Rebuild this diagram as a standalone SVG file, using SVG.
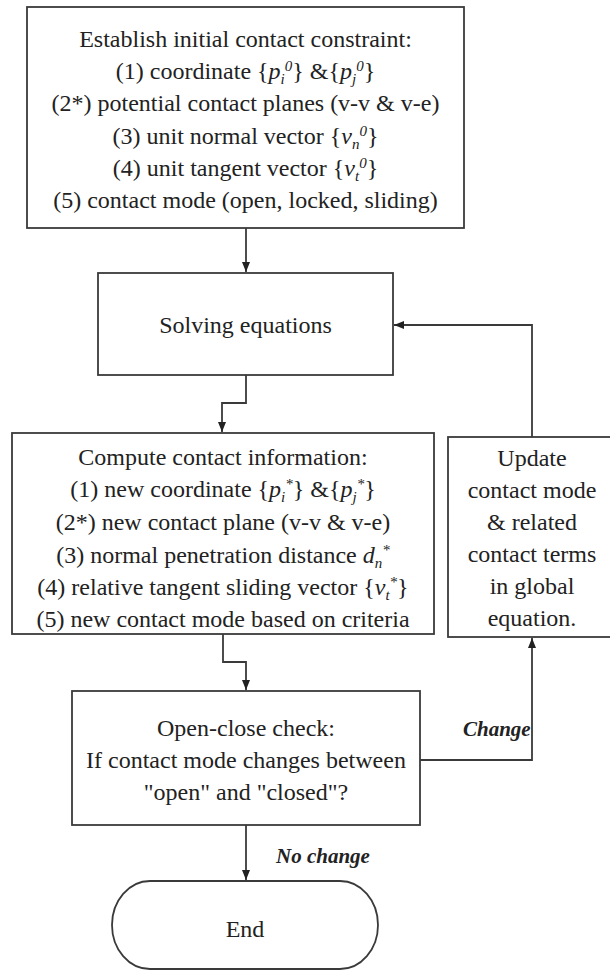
<svg xmlns="http://www.w3.org/2000/svg" width="610" height="974" viewBox="0 0 610 974">
<defs>
<style>
.box{fill:#fff;stroke:#3a3a3a;stroke-width:1.8}
.t{font-family:"Liberation Serif","Times New Roman",serif;font-size:24px;fill:#222;text-anchor:middle}
.i{font-style:italic}
.s{font-size:15px;font-style:italic}
.lbl{font-family:"Liberation Serif","Times New Roman",serif;font-size:21px;font-weight:bold;font-style:italic;fill:#222}
.con{fill:none;stroke:#3a3a3a;stroke-width:1.8}
</style>
<marker id="ah" markerWidth="10" markerHeight="10" refX="10" refY="5" orient="auto" markerUnits="userSpaceOnUse">
<path d="M0,1 L10,5 L0,9 Z" fill="#222"/>
</marker>
</defs>
<rect width="610" height="974" fill="#fff"/>

<g id="connectors">
<path class="con" d="M246,228 V272" marker-end="url(#ah)"/>
<path class="con" d="M246,375 V403 H222 V432" marker-end="url(#ah)"/>
<path class="con" d="M223,634 V662 H246 V690" marker-end="url(#ah)"/>
<path class="con" d="M246,825 V880" marker-end="url(#ah)"/>
<path class="con" d="M420,760 H532 V638" marker-end="url(#ah)"/>
<path class="con" d="M532,437 V325 H394" marker-end="url(#ah)"/>
</g>

<g id="init">
<rect class="box" x="27" y="7" width="437" height="221"/>
<text class="t" x="245.5" y="47">Establish initial contact constraint:</text>
<text class="t" x="245.5" y="79">(1) coordinate {<tspan class="i">p</tspan><tspan class="s" dy="5">i</tspan><tspan class="s" dy="-13">0</tspan><tspan dy="8">} &amp;{</tspan><tspan class="i">p</tspan><tspan class="s" dy="5">j</tspan><tspan class="s" dy="-13">0</tspan><tspan dy="8">}</tspan></text>
<text class="t" x="245.5" y="111">(2*) potential contact planes (v-v &amp; v-e)</text>
<text class="t" x="245.5" y="144">(3) unit normal vector {<tspan class="i">v</tspan><tspan class="s" dy="5">n</tspan><tspan class="s" dy="-13">0</tspan><tspan dy="8">}</tspan></text>
<text class="t" x="245.5" y="176">(4) unit tangent vector {<tspan class="i">v</tspan><tspan class="s" dy="5">t</tspan><tspan class="s" dy="-13">0</tspan><tspan dy="8">}</tspan></text>
<text class="t" x="245.5" y="208">(5) contact mode (open, locked, sliding)</text>
</g>

<g id="solve">
<rect class="box" x="98" y="273" width="295" height="102"/>
<text class="t" x="245.5" y="333">Solving equations</text>
</g>

<g id="compute">
<rect class="box" x="12" y="433" width="422" height="201"/>
<text class="t" x="223" y="465">Compute contact information:</text>
<text class="t" x="223" y="497">(1) new coordinate {<tspan class="i">p</tspan><tspan class="s" dy="5">i</tspan><tspan class="s" dy="-13">*</tspan><tspan dy="8">} &amp;{</tspan><tspan class="i">p</tspan><tspan class="s" dy="5">j</tspan><tspan class="s" dy="-13">*</tspan><tspan dy="8">}</tspan></text>
<text class="t" x="223" y="530">(2*) new contact plane (v-v &amp; v-e)</text>
<text class="t" x="223" y="563">(3) normal penetration distance <tspan class="i">d</tspan><tspan class="s" dy="5">n</tspan><tspan class="s" dy="-13">*</tspan></text>
<text class="t" x="223" y="595">(4) relative tangent sliding vector {<tspan class="i">v</tspan><tspan class="s" dy="5">t</tspan><tspan class="s" dy="-13">*</tspan><tspan dy="8">}</tspan></text>
<text class="t" x="223" y="627">(5) new contact mode based on criteria</text>
</g>

<g id="update">
<rect class="box" x="448" y="437" width="164" height="200"/>
<text class="t" x="532" y="466">Update</text>
<text class="t" x="532" y="498">contact mode</text>
<text class="t" x="532" y="530">&amp; related</text>
<text class="t" x="532" y="562">contact terms</text>
<text class="t" x="532" y="594">in global</text>
<text class="t" x="532" y="626">equation.</text>
</g>

<g id="check">
<rect class="box" x="72" y="691" width="348" height="134"/>
<text class="t" x="246" y="736">Open-close check:</text>
<text class="t" x="246" y="768">If contact mode changes between</text>
<text class="t" x="246" y="800">"open" and "closed"?</text>
</g>

<g id="end">
<path class="box" d="M150,881 H340 A38,44 0 0 1 340,969 H150 A38,44 0 0 1 150,881 Z"/>
<text class="t" x="245" y="937">End</text>
</g>

<g id="labels">
<text class="lbl" x="463" y="736">Change</text>
<text class="lbl" x="276" y="863">No change</text>
</g>
</svg>
